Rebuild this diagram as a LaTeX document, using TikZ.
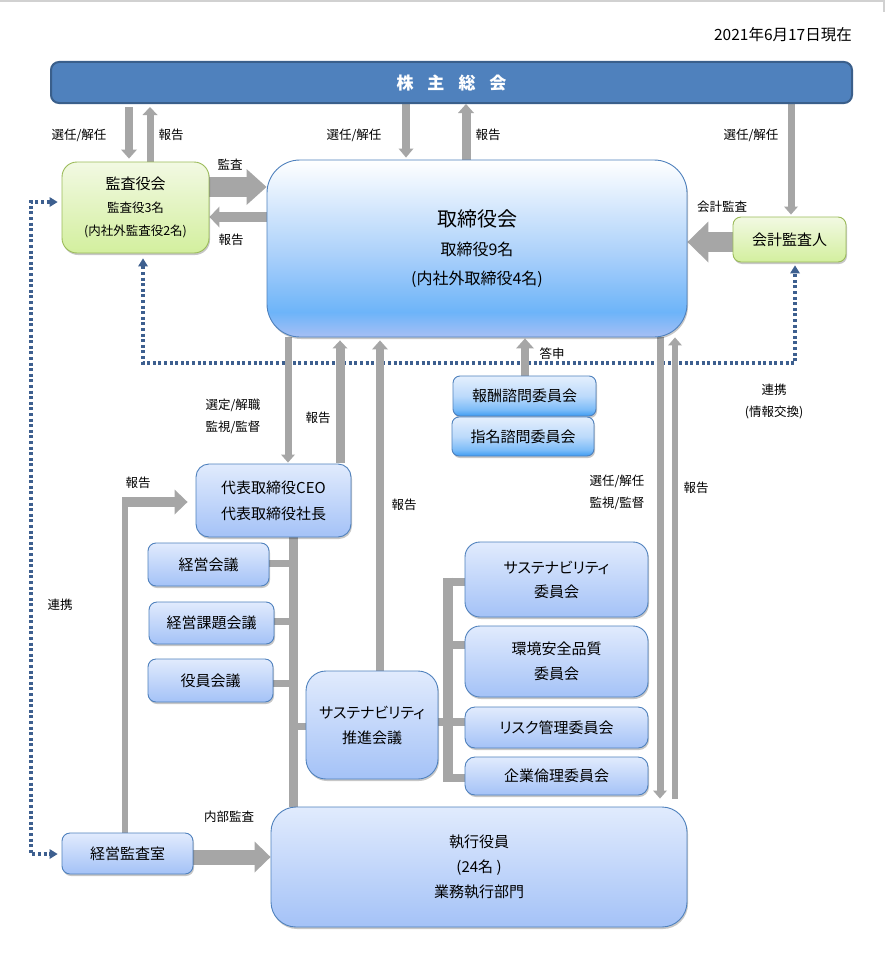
\documentclass[tikz,border=0pt]{standalone}
\usepackage{fontspec}
\setmainfont{Noto Sans CJK JP}[RawFeature=+palt]
\usetikzlibrary{arrows.meta,shadows}
\pgfdeclarelayer{background}
\pgfsetlayers{background,main}
\definecolor{agray}{HTML}{A6A6A6}
\definecolor{dotblue}{HTML}{3D5F8F}
\definecolor{kabufill}{HTML}{4F81BD}
\definecolor{kabuline}{HTML}{3A5F8B}
\definecolor{bborder}{HTML}{4F81BD}
\definecolor{btop}{HTML}{E1EBFD}
\definecolor{bbot}{HTML}{A4C2F7}
\definecolor{gtop}{HTML}{F2F9E3}
\definecolor{gbot}{HTML}{D3EF9E}
\definecolor{gborder}{HTML}{9BBB59}
\definecolor{torbot}{HTML}{A6BFF4}
\definecolor{tormid}{HTML}{6DB4F9}
\definecolor{torup}{HTML}{AAD0FA}
\definecolor{btnbot}{HTML}{3E9CF2}
\definecolor{btnmid}{HTML}{7CBCF8}
\definecolor{btnup}{HTML}{BCDAFB}
\definecolor{btntop}{HTML}{E4EFFD}
\pgfdeclareverticalshading{torshade}{100bp}{color(0bp)=(torbot); color(25bp)=(torbot); color(32bp)=(tormid); color(48bp)=(torup); color(75bp)=(white); color(100bp)=(white)}
\pgfdeclareverticalshading{btnshade}{100bp}{color(0bp)=(btnbot); color(25bp)=(btnbot); color(33bp)=(btnmid); color(50bp)=(btnup); color(75bp)=(btntop); color(100bp)=(btntop)}
\tikzset{
  boxshadow/.style={drop shadow={shadow xshift=1pt,shadow yshift=-2pt,opacity=0.22,fill=black}},
  bbox/.style={draw=bborder, line width=0.9pt, rounded corners=#1, top color=btop, bottom color=bbot,
    boxshadow, align=center, inner sep=0pt, font=\fontsize{15}{25}\selectfont},
  bbox/.default=8pt,
  btnbox/.style={draw=bborder, line width=0.9pt, rounded corners=7pt, shading=btnshade,
    boxshadow, align=center, inner sep=0pt, font=\fontsize{15}{25}\selectfont},
  gbox/.style={draw=gborder, line width=0.9pt, rounded corners=#1, top color=gtop, bottom color=gbot,
    boxshadow, align=center, inner sep=0pt, font=\fontsize{15}{23}\selectfont},
  gbox/.default=8pt,
  lbl/.style={inner sep=0pt, align=center, font=\fontsize{12.5}{22}\selectfont},
  garrow/.style n args={3}{draw=agray, line width=#1, -{Triangle[width=#2,length=#3,line width=0pt]}},
  gline/.style={draw=agray, line width=#1},
  dotlink/.style={draw=dotblue, line width=3.2pt, dash pattern=on 3pt off 2.6pt,
    {Triangle[width=10pt,length=8pt,line width=0pt]}-{Triangle[width=10pt,length=8pt,line width=0pt]}},
}
\begin{document}
\begin{tikzpicture}[x=1pt,y=-1pt]
\useasboundingbox (0,0) rectangle (885,974);
\begin{pgfonlayer}{background}
\fill[white] (0,0) rectangle (885,974);
\draw[black!18, line width=2pt] (0,1) -- (885,1);
\draw[black!18, line width=2pt] (884,0) -- (884,12);
\end{pgfonlayer}

% date
\node[lbl, anchor=east, font=\fontsize{15.5}{17}\selectfont] (date) at (852,35) {2021年6月17日現在};

% boxes
\node[draw=kabuline, line width=2pt, fill=kabufill, rounded corners=8pt, minimum width=801pt, minimum height=41pt,
  inner sep=0pt, text=white, font=\fontsize{17}{17}\selectfont\bfseries] (kabu) at (451.5,82.5)
  {株\hspace{14pt}主\hspace{14pt}総\hspace{14pt}会};

\node[gbox=15pt, minimum width=147pt, minimum height=91pt, font=\fontsize{12.5}{23}\selectfont] (kansa) at (135.5,207.5)
  {{\fontsize{15}{23}\selectfont 監査役会}\\監査役3名\\(内社外監査役2名)};

\node[draw=bborder, line width=0.9pt, rounded corners=33pt, shading=torshade, boxshadow, align=center, inner sep=0pt,
  minimum width=420pt, minimum height=177pt, font=\fontsize{16}{29}\selectfont] (tor) at (477,248.5)
  {{\fontsize{20}{29}\selectfont 取締役会}\\取締役9名\\(内社外取締役4名)};

\node[gbox=8pt, minimum width=113pt, minimum height=45pt] (kaikei) at (789.5,239.5) {会計監査人};

\node[btnbox, minimum width=143pt, minimum height=40pt] (hoshu) at (524.5,396) {報酬諮問委員会};
\node[btnbox, minimum width=142pt, minimum height=39pt] (shimei) at (523,436.5) {指名諮問委員会};

\node[bbox=13pt, minimum width=155pt, minimum height=73pt, font=\fontsize{15}{26}\selectfont] (ceo) at (273.5,500.5)
  {代表取締役CEO\\代表取締役社長};

\node[bbox=8pt, minimum width=121pt, minimum height=43pt] (keieikaigi) at (208.5,564.5) {経営会議};
\node[bbox=8pt, minimum width=125pt, minimum height=42pt] (kadai) at (211.5,623) {経営課題会議};
\node[bbox=8pt, minimum width=125pt, minimum height=43pt] (yakuin) at (210.5,680.5) {役員会議};

\node[bbox=20pt, minimum width=132pt, minimum height=108pt] (suishin) at (372,725) {サステナビリティ\\推進会議};

\node[bbox=15pt, minimum width=183pt, minimum height=75pt, font=\fontsize{15}{24}\selectfont] (sust) at (556.5,579.5) {サステナビリティ\\委員会};
\node[bbox=15pt, minimum width=183pt, minimum height=71pt] (kankyo) at (556.5,661.5) {環境安全品質\\委員会};
\node[bbox=10pt, minimum width=183pt, minimum height=41pt] (risk) at (556.5,727.5) {リスク管理委員会};
\node[bbox=10pt, minimum width=183pt, minimum height=38pt] (rinri) at (556.5,776) {企業倫理委員会};

\node[bbox=25pt, minimum width=416pt, minimum height=120pt] (shikko) at (479,867) {執行役員\\(24名 )\\業務執行部門};

\node[bbox=8pt, minimum width=131pt, minimum height=41pt] (kansashitsu) at (127.5,853.5) {経営監査室};

% labels
\node[lbl] (l1) at (79,135) {選任/解任};
\node[lbl] (l2) at (171,135) {報告};
\node[lbl] (l3) at (354,135) {選任/解任};
\node[lbl] (l4) at (488,135) {報告};
\node[lbl] (l5) at (751,135) {選任/解任};
\node[lbl] (l6) at (230,165) {監査};
\node[lbl] (l7) at (231,240) {報告};
\node[lbl] (l8) at (722,207) {会計監査};
\node[lbl] (l9) at (552,354) {答申};
\node[lbl] (l10) at (774,401) {連携\\(情報交換)};
\node[lbl] (l11) at (233,416) {選定/解職\\監視/監督};
\node[lbl] (l12) at (318,418) {報告};
\node[lbl] (l13) at (138,483) {報告};
\node[lbl] (l14) at (404,505) {報告};
\node[lbl] (l15) at (617,492) {選任/解任\\監視/監督};
\node[lbl] (l16) at (696,488) {報告};
\node[lbl] (l17) at (60,605) {連携};
\node[lbl] (l18) at (229,817) {内部監査};

\begin{pgfonlayer}{background}
% shareholders arrows
\draw[garrow={8pt}{16pt}{9pt}, shorten <=3pt, shorten >=3pt] (129,0 |- kabu.south) -- (129,0 |- kansa.north);
\draw[garrow={7pt}{15pt}{8pt}, shorten >=3pt] (150,0 |- kansa.north) -- (150,0 |- kabu.south);
\draw[garrow={8pt}{15pt}{9pt}, shorten >=2pt] (406,0 |- kabu.south) -- (406,0 |- tor.north);
\draw[garrow={9pt}{16pt}{9pt}] (466,0 |- tor.north) -- (466,0 |- kabu.south);
\draw[garrow={7pt}{14pt}{8pt}, shorten >=2pt] (791,0 |- kabu.south) -- (791,0 |- kaikei.north);

% audit arrows
\draw[garrow={20pt}{36pt}{20pt}] (kansa.east |- 0,187) -- (tor.west |- 0,187);
\draw[garrow={10pt}{21pt}{10pt}] (tor.west |- 0,217) -- (kansa.east |- 0,217);
\draw[garrow={20pt}{41pt}{21pt}] (kaikei.west |- 0,242) -- (tor.east |- 0,242);

% dotted links
\draw[dotlink, shorten <=5pt, shorten >=3pt] (143,0 |- kansa.south) -- (143,363) -- (795,363) -- (795,0 |- kaikei.south);
\draw[dotlink, shorten <=4pt, shorten >=4pt] (kansa.west |- 0,202) -- (31,202) -- (31,854) -- (kansashitsu.west |- 0,854);

% board to CEO etc.
\draw[garrow={7pt}{14pt}{8pt}, shorten >=1pt] (288,0 |- tor.south) -- (288,0 |- ceo.north);
\draw[garrow={9pt}{15pt}{8pt}, shorten >=3pt, shorten <=1pt] (340,0 |- ceo.north) -- (340,0 |- tor.south);
\draw[garrow={8pt}{16pt}{9pt}, shorten >=3pt] (380,0 |- suishin.north) -- (380,0 |- tor.south);
\draw[garrow={8pt}{18pt}{10pt}, shorten >=1pt] (525,0 |- hoshu.north) -- (525,0 |- tor.south);
\draw[garrow={7pt}{14pt}{8pt}, shorten >=8pt] (660,0 |- tor.south) -- (660,0 |- shikko.north);
\draw[garrow={6pt}{14pt}{8pt}, shorten <=8pt] (675,0 |- shikko.north) -- (675,0 |- tor.south);

% internal audit report to CEO
\coordinate (elbow) at (125,502);
\draw[gline=6pt] (125,0 |- kansashitsu.north) -- ([yshift=-3pt]elbow);
\draw[garrow={10pt}{25pt}{13pt}, shorten >=8pt] ([xshift=-3pt]elbow) -- (ceo.west |- elbow);

% internal audit
\draw[garrow={15pt}{31pt}{16pt}] (kansashitsu.east |- 0,857) -- (shikko.west |- 0,857);

% CEO tree
\draw[gline=9pt] (293,0 |- ceo.south) -- (293,0 |- shikko.north);
\draw[gline=7pt] (keieikaigi.east |- 0,563.5) -- (293,563.5);
\draw[gline=7pt] (kadai.east |- 0,621.5) -- (293,621.5);
\draw[gline=7pt] (yakuin.east |- 0,683.5) -- (293,683.5);
\draw[gline=7pt] (293,726.5) -- (suishin.west |- 0,726.5);

% committee bracket
\coordinate (brtop) at (448,577.5);
\coordinate (brbot) at (448,782);
\draw[gline=10pt] (brtop) -- (brbot);
\draw[gline=8pt] (suishin.east |- 0,722) -- (risk.west |- 0,722);
\draw[gline=8pt] (443,581.5) -- (sust.west |- 0,581.5);
\draw[gline=8pt] (448,645) -- (kankyo.west |- 0,645);
\draw[gline=8pt] (443,778) -- (rinri.west |- 0,778);
\end{pgfonlayer}
\end{tikzpicture}
\end{document}
